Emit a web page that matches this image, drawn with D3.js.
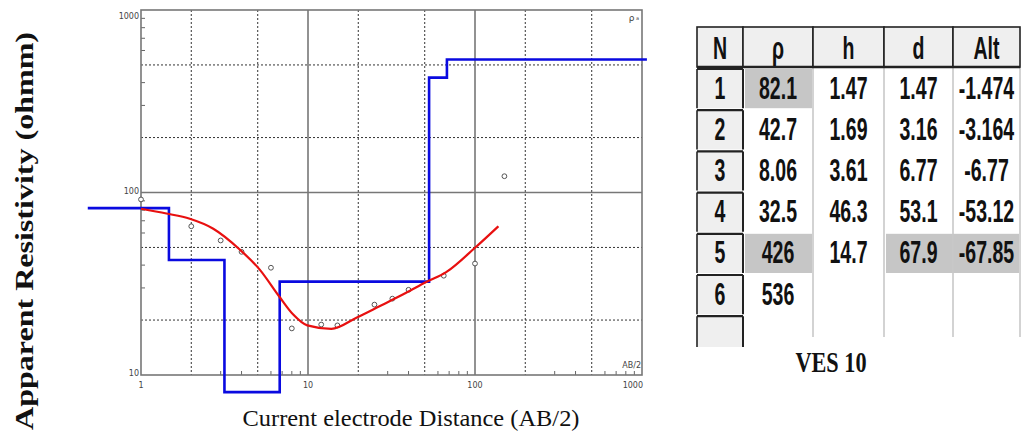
<!DOCTYPE html>
<html>
<head>
<meta charset="utf-8">
<script src="https://cdn.jsdelivr.net/npm/d3@7"></script>
<style>
  body { margin: 0; background: #fff; }
  svg { display: block; }
</style>
</head>
<body>
<svg id="chart" width="1026" height="445"></svg>
<script>
// layer model (VES 10)
const layerN = [1, 2, 3, 4, 5, 6];
const layerRho = [82.1, 42.7, 8.06, 32.5, 426, 536];
const layerH = [1.47, 1.69, 3.61, 46.3, 14.7, null];
const layerD = [1.47, 3.16, 6.77, 53.1, 67.9, null];
const layerAlt = ["-1.474", "-3.164", "-6.77", "-53.12", "-67.85", ""];
const modelStart = 0.48, modelEnd = 1070;

// field measurements
const obsAB = [1, 2, 3, 4, 6, 8, 12, 15, 25, 32, 40, 65, 100, 150];
const obsRho = [91.6, 65.3, 54.6, 47.3, 38.7, 18.0, 18.9, 18.7, 24.3, 26.2, 29.3, 35, 40.8, 122.8];

// calculated curve
const calcAB = [1, 1.42, 1.96, 2.71, 3.9, 5.14, 6.71, 8.13, 9.9, 13.8, 19.5, 26.8, 38.7, 51, 67.2, 100, 138];
const calcRho = [81.5, 76.7, 71.8, 63.3, 48.7, 37.8, 27.0, 21.5, 18.7, 17.9, 20.6, 23.8, 28.2, 32.3, 36.6, 49.8, 65.3];

const xTicks = [1, 10, 100, 1000];
const yTicks = [10, 100, 1000];

const svg = d3.select("#chart");

const x = d3.scaleLog().domain([1, 1000]).range([141, 642]);
const y = d3.scaleLog().domain([10, 1000]).range([375, 10]);

const [x0, x1] = x.range();
const [y0, y1] = y.range();

// grid
const gridVals = [];
[1, 10, 100].forEach(function(dec) {
    for (let m = 2; m <= 9; m++) gridVals.push(dec * m);
});

const g = svg.append("g");

gridVals.filter(v => v <= 1000).forEach(function(v) {
    const m = Math.round(v / Math.pow(10, Math.floor(Math.log10(v) + 1e-9)));
    if (m === 2 || m === 5) {
        g.append("line").attr("x1", x(v)).attr("x2", x(v)).attr("y1", y1).attr("y2", y0)
            .attr("stroke", "#333").attr("stroke-dasharray", "2,2").attr("stroke-width", 1);
        if (v >= 10) {
            g.append("line").attr("y1", y(v)).attr("y2", y(v)).attr("x1", x0).attr("x2", x1)
                .attr("stroke", "#333").attr("stroke-dasharray", "2,2").attr("stroke-width", 1);
        }
    } else {
        g.append("line").attr("x1", x(v)).attr("x2", x(v)).attr("y1", y0).attr("y2", y0 - 4)
            .attr("stroke", "#666");
        if (v >= 10) {
            g.append("line").attr("y1", y(v)).attr("y2", y(v)).attr("x1", x0).attr("x2", x0 + 4)
                .attr("stroke", "#666");
        }
    }
});

[10, 100].forEach(function(v) {
    g.append("line").attr("x1", x(v)).attr("x2", x(v)).attr("y1", y1).attr("y2", y0)
        .attr("stroke", "#777").attr("stroke-width", 1.6);
});
g.append("line").attr("y1", y(100)).attr("y2", y(100)).attr("x1", x0).attr("x2", x1)
    .attr("stroke", "#777").attr("stroke-width", 1.6);

g.append("rect").attr("x", x0).attr("y", y1).attr("width", x1 - x0).attr("height", y0 - y1)
    .attr("fill", "none").attr("stroke", "#777").attr("stroke-width", 1.6);

// tick labels
g.selectAll(".xt").data(xTicks).enter().append("text")
    .attr("x", d => d === 1000 ? x(d) + 1 : x(d))
    .attr("y", 388)
    .attr("text-anchor", d => d === 1000 ? "end" : "middle")
    .attr("font-family", "DejaVu Sans, sans-serif").attr("font-size", 8).attr("fill", "#444")
    .text(d => d);

g.selectAll(".yt").data(yTicks).enter().append("text")
    .attr("x", x0 - 2)
    .attr("y", d => d === 1000 ? y(d) + 9 : y(d) + 1)
    .attr("text-anchor", "end")
    .attr("font-family", "DejaVu Sans, sans-serif").attr("font-size", 8).attr("fill", "#444")
    .text(d => d);

g.append("text").attr("x", x1 - 1).attr("y", y0 - 7).attr("text-anchor", "end")
    .attr("font-family", "DejaVu Sans, sans-serif").attr("font-size", 8).attr("fill", "#444")
    .text("AB/2");

const rl = g.append("text").attr("x", x1 - 3).attr("y", y1 + 11).attr("text-anchor", "end")
    .attr("font-family", "DejaVu Sans, sans-serif").attr("font-size", 9).attr("fill", "#444");
rl.append("tspan").text("ρ");
rl.append("tspan").attr("font-size", 5).attr("dy", -1).text(" a");

// observed points
g.selectAll(".obs").data(obsAB).enter().append("circle")
    .attr("cx", d => x(d))
    .attr("cy", (d, i) => y(obsRho[i]))
    .attr("r", 2.4)
    .attr("fill", "#fff").attr("stroke", "#555").attr("stroke-width", 1);

// model steps
const modelPts = [[modelStart, layerRho[0]]];
for (let i = 1; i < layerRho.length; i++) modelPts.push([layerD[i - 1], layerRho[i]]);
modelPts.push([modelEnd, layerRho[layerRho.length - 1]]);

g.append("path")
    .attr("d", d3.line().x(d => x(d[0])).y(d => y(d[1])).curve(d3.curveStepAfter)(modelPts))
    .attr("fill", "none").attr("stroke", "#0a0ae0").attr("stroke-width", 2.6);

g.append("path")
    .attr("d", d3.line().x(d => x(d)).y((d, i) => y(calcRho[i])).curve(d3.curveMonotoneX)(calcAB))
    .attr("fill", "none").attr("stroke", "#e81010").attr("stroke-width", 2.2);

// axis titles
svg.append("text")
    .attr("transform", "translate(33,231) rotate(-90)")
    .attr("text-anchor", "middle")
    .attr("font-family", "Liberation Serif, Times New Roman, serif")
    .attr("font-weight", "bold").attr("font-size", 26).attr("fill", "#111")
    .attr("textLength", 398).attr("lengthAdjust", "spacingAndGlyphs")
    .text("Apparent Resistivity (ohmm)");

svg.append("text")
    .attr("x", 411).attr("y", 426)
    .attr("text-anchor", "middle")
    .attr("font-family", "Liberation Serif, Times New Roman, serif")
    .attr("font-size", 23).attr("fill", "#111")
    .attr("textLength", 337).attr("lengthAdjust", "spacingAndGlyphs")
    .text("Current electrode Distance (AB/2)");

svg.append("text")
    .attr("x", 831).attr("y", 372)
    .attr("text-anchor", "middle")
    .attr("font-family", "Liberation Serif, Times New Roman, serif")
    .attr("font-weight", "bold").attr("font-size", 29).attr("fill", "#111")
    .attr("textLength", 71).attr("lengthAdjust", "spacingAndGlyphs")
    .text("VES 10");

// table
const colEdges = [697, 743, 813, 884, 953, 1020];
const headTop = 27, headBot = 67, rowH = 41.2, tabBot = 347, sepBot = 337;
const headers = ["N", "ρ", "h", "d", "Alt"];
const fmt = v => v == null ? "" : String(v);
const rows = layerN.map((n, i) => [String(n), fmt(layerRho[i]), fmt(layerH[i]), fmt(layerD[i]), layerAlt[i]]);
const highlight = [[0, 1], [4, 1], [4, 3], [4, 4]];

const t = svg.append("g");
const tfont = "Liberation Sans, Arial, sans-serif";

// highlighted cells
highlight.forEach(function(c) {
    const top = headBot + c[0] * rowH;
    t.append("rect").attr("x", colEdges[c[1]] + 2).attr("y", top + 2)
        .attr("width", colEdges[c[1] + 1] - colEdges[c[1]] - (c[1] === 3 ? 0 : 3))
        .attr("height", rowH - 2).attr("fill", "#c6c6c6");
});

// light separators in data area
colEdges.slice(2).forEach(function(cx) {
    t.append("line").attr("x1", cx).attr("x2", cx).attr("y1", headBot).attr("y2", sepBot)
        .attr("stroke", "#c8c8c8").attr("stroke-width", 1.6);
});

// header cells
for (let c = 0; c < 5; c++) {
    t.append("rect").attr("x", colEdges[c]).attr("y", headTop)
        .attr("width", colEdges[c + 1] - colEdges[c]).attr("height", headBot - headTop)
        .attr("fill", "#efefef").attr("stroke", "#222").attr("stroke-width", 1.6);
}
t.append("line").attr("x1", colEdges[0]).attr("x2", colEdges[5]).attr("y1", headBot).attr("y2", headBot)
    .attr("stroke", "#222").attr("stroke-width", 2.4);

// N column cells
for (let r = 0; r <= rows.length; r++) {
    const top = headBot + 2 + r * rowH;
    const bot = r === rows.length ? tabBot : headBot + (r + 1) * rowH;
    t.append("rect").attr("x", colEdges[0]).attr("y", top)
        .attr("width", colEdges[1] - colEdges[0]).attr("height", bot - top)
        .attr("fill", "#efefef");
    t.append("line").attr("x1", colEdges[0]).attr("x2", colEdges[0]).attr("y1", top).attr("y2", bot)
        .attr("stroke", "#222").attr("stroke-width", 1.6);
    t.append("line").attr("x1", colEdges[1]).attr("x2", colEdges[1]).attr("y1", top).attr("y2", bot)
        .attr("stroke", "#222").attr("stroke-width", 2);
    t.append("line").attr("x1", colEdges[0]).attr("x2", colEdges[1]).attr("y1", top).attr("y2", top)
        .attr("stroke", "#222").attr("stroke-width", 2.2);
}

function cellText(txt, cx, cy) {
    t.append("text")
        .attr("transform", `translate(${cx},${cy}) scale(0.63,1)`)
        .attr("text-anchor", "middle")
        .attr("font-family", tfont).attr("font-weight", "bold").attr("font-size", 31)
        .attr("fill", "#111")
        .text(txt);
}

headers.forEach(function(h, c) {
    cellText(h, (colEdges[c] + colEdges[c + 1]) / 2, 59);
});
rows.forEach(function(row, r) {
    const cy = headBot + r * rowH + rowH / 2 + 11;
    row.forEach(function(v, c) {
        if (v !== "") cellText(v, (colEdges[c] + colEdges[c + 1]) / 2, cy);
    });
});
</script>
</body>
</html>
